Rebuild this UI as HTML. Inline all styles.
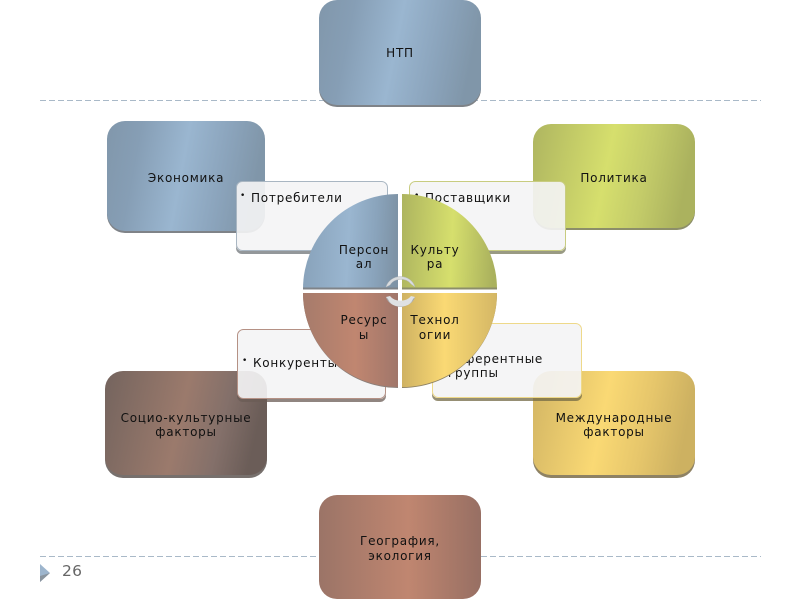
<!DOCTYPE html>
<html><head><meta charset="utf-8">
<style>
html,body{margin:0;padding:0;background:#fff;width:800px;height:600px;overflow:hidden}
svg{display:block}
text{font-family:"DejaVu Sans","Liberation Sans",sans-serif;font-size:12px;fill:#111;text-anchor:middle;letter-spacing:.75px}
text.l{text-anchor:start}
</style></head><body>
<svg width="800" height="600" viewBox="0 0 800 600" xmlns="http://www.w3.org/2000/svg">
<defs>
<linearGradient id="b" x1="0" y1="0" x2="1" y2=".13"><stop offset="0" stop-color="#8197ab"/><stop offset=".22" stop-color="#869eb5"/><stop offset=".52" stop-color="#9ab6d0"/><stop offset=".78" stop-color="#8ba4bc"/><stop offset="1" stop-color="#8096a9"/></linearGradient>
<linearGradient id="g" x1="0" y1="0" x2="1" y2=".13"><stop offset="0" stop-color="#aeb560"/><stop offset=".5" stop-color="#d6df6d"/><stop offset=".75" stop-color="#c3cb69"/><stop offset="1" stop-color="#abb25e"/></linearGradient>
<linearGradient id="d" x1="0" y1="0" x2="1" y2=".15"><stop offset="0" stop-color="#74645e"/><stop offset=".52" stop-color="#9b7a6c"/><stop offset=".78" stop-color="#84706a"/><stop offset="1" stop-color="#6b5d58"/></linearGradient>
<linearGradient id="y" x1="0" y1="0" x2="1" y2=".13"><stop offset="0" stop-color="#d2b564"/><stop offset=".48" stop-color="#fad974"/><stop offset=".75" stop-color="#e6c66b"/><stop offset="1" stop-color="#cdb161"/></linearGradient>
<linearGradient id="r" x1="0" y1="0" x2="1" y2="0"><stop offset="0" stop-color="#9b7467"/><stop offset=".55" stop-color="#c08670"/><stop offset="1" stop-color="#976f63"/></linearGradient>
<linearGradient id="qb" x1="0" y1="0" x2="1" y2=".05"><stop offset="0" stop-color="#87a1b9"/><stop offset=".5" stop-color="#9ab6d0"/><stop offset=".78" stop-color="#8aa4bc"/><stop offset="1" stop-color="#7e93a6"/></linearGradient>
<linearGradient id="qg" x1="0" y1="0" x2="1" y2=".05"><stop offset="0" stop-color="#adb45f"/><stop offset=".55" stop-color="#d6df6d"/><stop offset="1" stop-color="#aab15d"/></linearGradient>
<linearGradient id="qr" x1="0" y1="0" x2="1" y2="0"><stop offset="0" stop-color="#a67b6b"/><stop offset=".55" stop-color="#c08670"/><stop offset="1" stop-color="#a0766a"/></linearGradient>
<linearGradient id="qy" x1="0" y1="0" x2="1" y2="0"><stop offset="0" stop-color="#cfb262"/><stop offset=".45" stop-color="#fad974"/><stop offset="1" stop-color="#d4b765"/></linearGradient>
</defs>

<line x1="40" y1="100.5" x2="761" y2="100.5" stroke="#a9b9c8" stroke-width="1" stroke-dasharray="6 3"/>
<line x1="40" y1="556.5" x2="761" y2="556.5" stroke="#a9b9c8" stroke-width="1" stroke-dasharray="6 3"/>
<polygon points="40,564 50,573 40,582" fill="#9db5cd"/>
<polygon points="40,582 50,573 40,576" fill="#8a949e"/>
<text class="l" x="62" y="576" style="font-size:15.5px;fill:#666;letter-spacing:.3px">26</text>

<!-- Outer boxes -->
<rect x="319" y="3" width="162" height="104" rx="18" fill="#7f8388"/>
<rect x="319" y="0" width="162" height="105" rx="18" fill="url(#b)"/>
<text x="400" y="57">НТП</text>

<rect x="107" y="124" width="158" height="109" rx="18" fill="#7f8388"/>
<rect x="107" y="121" width="158" height="110" rx="18" fill="url(#b)"/>
<text x="186" y="182">Экономика</text>

<rect x="533" y="127" width="162" height="103" rx="18" fill="#8c8e6a"/>
<rect x="533" y="124" width="162" height="104" rx="18" fill="url(#g)"/>
<text x="614" y="182">Политика</text>

<rect x="105" y="374" width="162" height="104" rx="18" fill="#77706d"/>
<rect x="105" y="371" width="162" height="104" rx="18" fill="url(#d)"/>
<text x="186" y="422">Социо-культурные</text>
<text x="186" y="436">факторы</text>

<rect x="533" y="374" width="162" height="104" rx="18" fill="#8e8264"/>
<rect x="533" y="371" width="162" height="104" rx="18" fill="url(#y)"/>
<text x="614" y="422">Международные</text>
<text x="614" y="436">факторы</text>

<rect x="319" y="495" width="162" height="104" rx="18" fill="url(#r)"/>
<text x="400" y="545">География,</text>
<text x="400" y="560">экология</text>

<!-- Light boxes -->
<path d="M236 245 v3 a6 6 0 0 0 6 6 h140 a6 6 0 0 0 6 -6 v-3 a6 6 0 0 1 -6 6 h-140 a6 6 0 0 1 -6 -6 z" fill="#6f7478" fill-opacity=".75"/>
<rect x="236.5" y="181.5" width="151" height="69" rx="6" fill="#f4f4f5" fill-opacity=".91" stroke="#a9b6c2"/>
<text class="l" x="240" y="198" style="font-size:9px">•</text>
<text class="l" x="251" y="202">Потребители</text>

<path d="M409 245 v3 a6 6 0 0 0 6 6 h145 a6 6 0 0 0 6 -6 v-3 a6 6 0 0 1 -6 6 h-145 a6 6 0 0 1 -6 -6 z" fill="#77785a" fill-opacity=".75"/>
<rect x="409.5" y="181.5" width="156" height="69" rx="6" fill="#f4f4f5" fill-opacity=".91" stroke="#c8cc80"/>
<text class="l" x="414" y="198" style="font-size:9px">•</text>
<text class="l" x="425" y="202">Поставщики</text>

<path d="M237 393 v3 a6 6 0 0 0 6 6 h137 a6 6 0 0 0 6 -6 v-3 a6 6 0 0 1 -6 6 h-137 a6 6 0 0 1 -6 -6 z" fill="#6b5c55" fill-opacity=".75"/>
<rect x="237.5" y="329.5" width="148" height="69" rx="6" fill="#f4f4f5" fill-opacity=".91" stroke="#b59185"/>
<text class="l" x="242" y="363" style="font-size:9px">•</text>
<text class="l" x="253" y="367">Конкуренты</text>

<path d="M432 392 v3 a6 6 0 0 0 6 6 h138 a6 6 0 0 0 6 -6 v-3 a6 6 0 0 1 -6 6 h-138 a6 6 0 0 1 -6 -6 z" fill="#736a45" fill-opacity=".75"/>
<rect x="432.5" y="323.5" width="149" height="74" rx="6" fill="#f4f4f5" fill-opacity=".91" stroke="#eed98a"/>
<text class="l" x="448" y="363">Референтные</text>
<text class="l" x="448" y="377">группы</text>

<!-- Circle quadrants -->
<path d="M398 194 A95 95 0 0 0 303 289 L398 289 Z" fill="url(#qb)"/>
<rect x="303" y="287.5" width="95" height="2" fill="#7f8388"/>
<path d="M402 194 A95 95 0 0 1 497 289 L402 289 Z" fill="url(#qg)"/>
<rect x="402" y="287.5" width="95" height="2" fill="#8c8e6a"/>
<path d="M398 293 L303 293 A95 95 0 0 0 398 388 Z" fill="#8a7f7a"/>
<path d="M398 293 L303 293 A95 94 0 0 0 398 387 Z" fill="url(#qr)"/>
<path d="M402 293 L497 293 A95 95 0 0 1 402 388 Z" fill="#8e8264"/>
<path d="M402 293 L497 293 A95 94 0 0 1 402 387 Z" fill="url(#qy)"/>

<text x="364" y="254">Персон</text>
<text x="364" y="268">ал</text>
<text x="435" y="254">Культу</text>
<text x="435" y="268">ра</text>
<text x="364" y="324">Ресурс</text>
<text x="364" y="339">ы</text>
<text x="435" y="324">Технол</text>
<text x="435" y="339">огии</text>

<!-- Centre arrows -->
<path d="M386 287 A15 14 0 0 1 415 287 L411 284 A12 10 0 0 0 390 285 Z" fill="#d9dcdf" stroke="#b5b9bd" stroke-width=".5"/>
<path d="M386 297 A15 13 0 0 0 415 297 L411 296 A12 9 0 0 1 390 296 Z" fill="#dfe1e3"/>
<path d="M386 297 A15 13 0 0 0 415 297 L413 299 A13 11 0 0 1 388 299 Z" fill="#9ea3a8"/>
</svg>
</body></html>
